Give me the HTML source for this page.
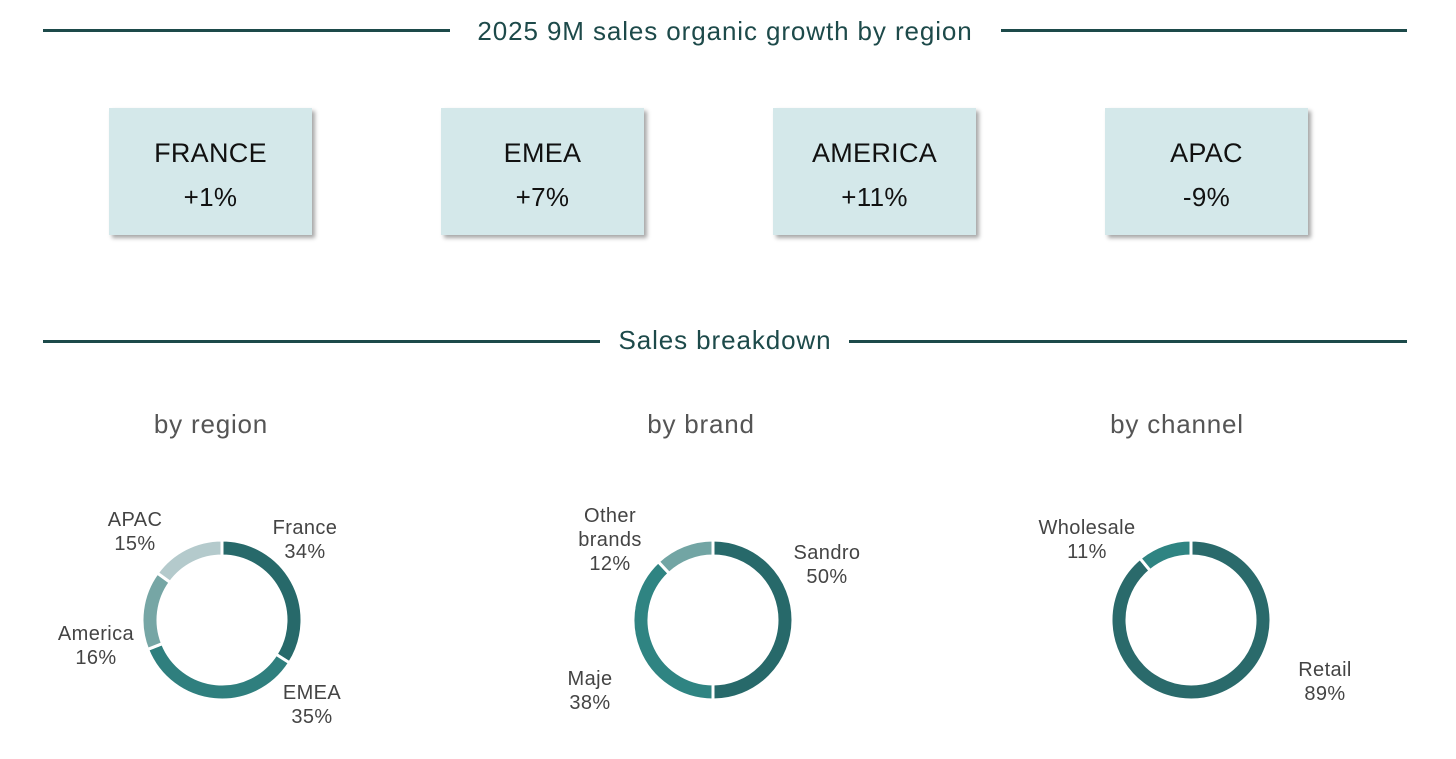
<!DOCTYPE html>
<html><head><meta charset="utf-8"><style>
body{margin:0;width:1456px;height:759px;background:#fff;font-family:"Liberation Sans",sans-serif;position:relative;overflow:hidden}
.line{position:absolute;height:3px;background:#1d4a4a}
.title{position:absolute;color:#1d4a4a;font-size:26px;white-space:nowrap;transform:translateX(-50%);letter-spacing:0.9px}
.box{position:absolute;width:203px;height:127px;background:#d4e8ea;box-shadow:3px 3px 4px rgba(0,0,0,.35);text-align:center;color:#111}
.box .n{font-size:27px;margin-top:30px;letter-spacing:0.3px}
.box .v{font-size:26px;margin-top:13px;letter-spacing:0.3px}
.sub{position:absolute;font-size:26px;color:#555;transform:translateX(-50%);letter-spacing:0.8px}
svg{position:absolute;left:0;top:0}
</style></head><body>
<div class="line" style="left:43px;top:29px;width:407px"></div>
<div class="line" style="left:1001px;top:29px;width:406px"></div>
<div class="title" style="left:725px;top:16px">2025 9M sales organic growth by region</div>
<div class="box" style="left:109px;top:108px"><div class="n">FRANCE</div><div class="v">+1%</div></div>
<div class="box" style="left:441px;top:108px"><div class="n">EMEA</div><div class="v">+7%</div></div>
<div class="box" style="left:773px;top:108px"><div class="n">AMERICA</div><div class="v">+11%</div></div>
<div class="box" style="left:1105px;top:108px"><div class="n">APAC</div><div class="v">-9%</div></div>
<div class="line" style="left:43px;top:340px;width:557px"></div>
<div class="line" style="left:849px;top:340px;width:558px"></div>
<div class="title" style="left:725px;top:325px">Sales breakdown</div>
<div class="sub" style="left:211px;top:409px">by region</div>
<div class="sub" style="left:701px;top:409px">by brand</div>
<div class="sub" style="left:1177px;top:409px">by channel</div>
<svg id="chart" width="1456" height="759"></svg>
<script>
const regionLabels=["France","EMEA","America","APAC"];
const regionValues=[34,35,16,15];
const brandLabels=["Sandro","Maje","Other brands"];
const brandValues=[50,38,12];
const channelLabels=["Retail","Wholesale"];
const channelValues=[89,11];
const NS="http://www.w3.org/2000/svg";
const svg=document.getElementById('chart');
function arc(cx,cy,r0,r1,a0,a1){
  const p=(r,a)=>[cx+r*Math.sin(a),cy-r*Math.cos(a)];
  const L=(a1-a0)>Math.PI?1:0;
  const [x1,y1]=p(r1,a0),[x2,y2]=p(r1,a1),[x3,y3]=p(r0,a1),[x4,y4]=p(r0,a0);
  return `M${x1},${y1}A${r1},${r1} 0 ${L} 1 ${x2},${y2}L${x3},${y3}A${r0},${r0} 0 ${L} 0 ${x4},${y4}Z`;
}
function donut(name,cx,cy,labels,values,colors,labelPos){
  const tot=values.reduce((a,b)=>a+b,0);let a=0;
  values.forEach((v,i)=>{
    const a1=a+v/tot*2*Math.PI;
    const path=document.createElementNS(NS,'path');
    path.setAttribute('d',arc(cx,cy,64,80,a,a1));
    path.setAttribute('fill',colors[i]);
    path.setAttribute('stroke','#fff');path.setAttribute('stroke-width','3');
    
    
    svg.appendChild(path);
    const words=labels[i].split(' ').concat([v+'%']);
    const t=document.createElementNS(NS,'text');
    
    
    t.setAttribute('text-anchor','middle');t.setAttribute('font-size','20');t.setAttribute('fill','#444');
    t.setAttribute('letter-spacing','0.4');
    t.setAttribute('font-family','Liberation Sans, sans-serif');
    const [lx,ly]=labelPos[i];
    words.forEach((w,j)=>{const s=document.createElementNS(NS,'tspan');s.setAttribute('x',lx);s.setAttribute('y',ly+j*24);s.textContent=w;t.appendChild(s);});
    svg.appendChild(t);
    a=a1;
  });
}
donut('region',222,620,regionLabels,regionValues,['#27696a','#2f7f7e','#76a6a5','#b4cacc'],[[305,534],[312,699],[96,640],[135,526]]);
donut('brand',713,620,brandLabels,brandValues,['#27696a','#2f8482','#72a5a4'],[[827,559],[590,685],[610,522]]);
donut('channel',1191,620,channelLabels,channelValues,['#2a6a6b','#2f8482'],[[1325,676],[1087,534]]);
</script>
</body></html>
